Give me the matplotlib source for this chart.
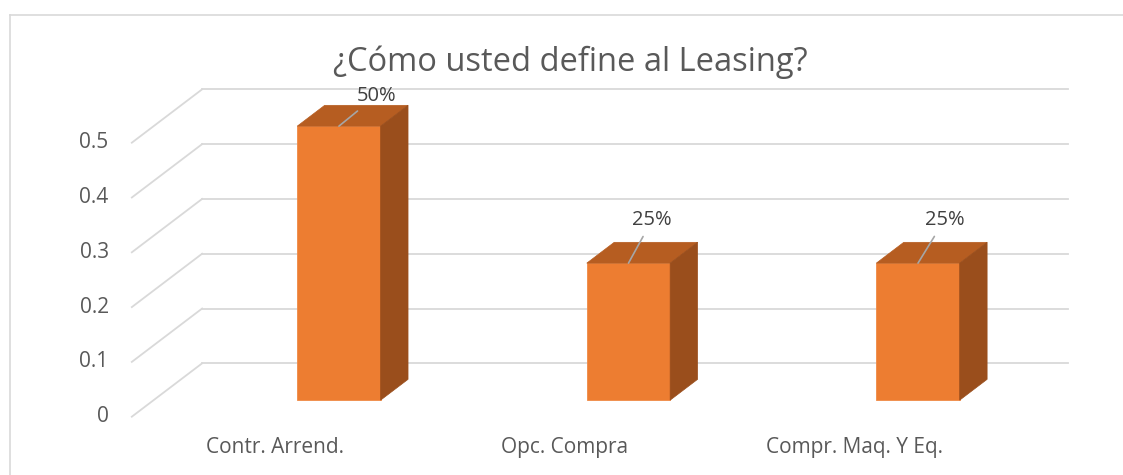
import matplotlib
matplotlib.use("Agg")
import matplotlib.pyplot as plt
from matplotlib.patches import Polygon, Rectangle
from matplotlib.lines import Line2D

title = "¿Cómo usted define al Leasing?"
categories = ["Contr. Arrend.", "Opc. Compra", "Compr. Maq. Y Eq."]
shares = [0.5, 0.25, 0.25]
share_labels = ["50%", "25%", "25%"]
ticks = [0, 0.1, 0.2, 0.3, 0.4, 0.5]
tick_labels = ["0", "0.1", "0.2", "0.3", "0.4", "0.5"]

# label offsets (points) from the bar top, as Excel placed them
label_offsets = [(27, 22), (17, 31), (19, 31)]

W, H = 1123, 475
plt.rcParams['font.family'] = ['Open Sans', 'DejaVu Sans']
fig = plt.figure(figsize=(W / 100, H / 100), dpi=100)
ax = fig.add_axes([0, 0, 1, 1])
ax.set_xlim(-1.0953, 2.7833)
ax.set_ylim(-0.1064, 0.7604)
ax.axis("off")

grid = "#d9d9d9"
txt = "#595959"
front_c, top_c, side_c = "#ED7D31", "#B65D21", "#9A4E1C"

# oblique depth of the floor in data units
dx, dy = 0.2428, 0.0974
floor_left, floor_right = -0.640, 2.350
d0, d1 = 0.31, 0.70   # bar depth range (fraction of floor depth)
half = 0.144

for t, lab in zip(ticks, tick_labels):
    ax.plot([floor_left, floor_left + dx], [t, t + dy], color=grid, lw=1.3, zorder=1)
    ax.plot([floor_left + dx, floor_right + dx], [t + dy, t + dy], color=grid, lw=1.3, zorder=1)
    ax.text(-0.72, t, lab, ha="right", va="center", fontsize=15, color=txt)

ex, ey = (d1 - d0) * dx, (d1 - d0) * dy
for i, (h, lab) in enumerate(zip(shares, share_labels)):
    x0 = i - half + d0 * dx
    x1 = i + half + d0 * dx
    y0 = d0 * dy
    y1 = h + y0
    ax.add_patch(Rectangle((x0, y0), x1 - x0, h, facecolor=front_c, edgecolor="#F08A45", lw=0.6, zorder=3))
    ax.add_patch(Polygon([(x0, y1), (x1, y1), (x1 + ex, y1 + ey), (x0 + ex, y1 + ey)],
                         closed=True, facecolor=top_c, edgecolor=top_c, lw=0.5, zorder=3))
    ax.add_patch(Polygon([(x1, y0), (x1 + ex, y0 + ey), (x1 + ex, y1 + ey), (x1, y1)],
                         closed=True, facecolor=side_c, edgecolor=side_c, lw=0.5, zorder=3))
    ax.annotate(lab, xy=(i + d0 * dx, y1), xytext=label_offsets[i], textcoords="offset points",
                ha="center", va="center", fontsize=14.5, color="#404040", zorder=5,
                arrowprops=dict(arrowstyle="-", color="#a6a6a6", lw=1.2, shrinkA=3, shrinkB=0))

for i, cat in enumerate(categories):
    ax.text(i - 0.145, -0.0566, cat, ha="center", va="center", fontsize=15, color=txt)

fig.text(570.5 / W, 1 - 62 / H, title, ha="center", va="center", fontsize=23.5, color=txt)

# chart frame
fig.add_artist(Line2D([10 / W, 10 / W], [0, 1 - 15 / H], color=grid, lw=1.2))
fig.add_artist(Line2D([10 / W, 1], [1 - 15 / H, 1 - 15 / H], color=grid, lw=1.2))

fig.savefig("out.png", dpi=100)
